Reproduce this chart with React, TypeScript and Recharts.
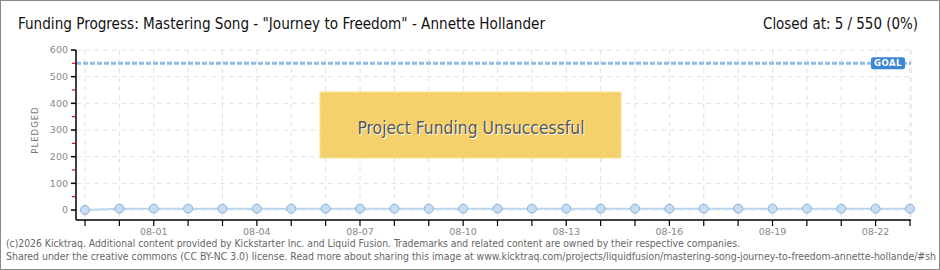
import React from 'react';
import { LineChart, Line, XAxis, YAxis, CartesianGrid, ReferenceLine } from 'recharts';

const dates = [
  '07-30', '07-31', '08-01', '08-02', '08-03', '08-04', '08-05', '08-06', '08-07',
  '08-08', '08-09', '08-10', '08-11', '08-12', '08-13', '08-14', '08-15', '08-16',
  '08-17', '08-18', '08-19', '08-20', '08-21', '08-22', '08-23',
];
const pledged = [0, 5, 5, 5, 5, 5, 5, 5, 5, 5, 5, 5, 5, 5, 5, 5, 5, 5, 5, 5, 5, 5, 5, 5, 5];
const yTicks = [0, 50, 100, 150, 200, 250, 300, 350, 400, 450, 500, 550, 600];
const gridValues = [0, 100, 200, 300, 400, 500, 600];
const goal = 550;

const data = dates.map((d, i) => ({ date: d, pledged: pledged[i] }));

const tickFont = '"DejaVu Sans", Verdana, sans-serif';
const narrowFont = '"Liberation Sans Narrow", "DejaVu Sans Condensed", sans-serif';

const YTick = (props: any) => {
  const { x, y, payload } = props;
  const major = payload.value % 100 === 0;
  return (
    <g>
      {major ? (
        <line x1={x + 3} x2={x + 8} y1={y} y2={y} stroke="#000" strokeWidth={1.5} />
      ) : (
        <line x1={x + 4} x2={x + 7} y1={y} y2={y} stroke="#e00" strokeWidth={1.2} />
      )}
      {major && (
        <text x={x} y={y} dy="0.35em" textAnchor="end" fontSize={9.5} fill="#888" fontFamily={tickFont}>
          {payload.value}
        </text>
      )}
    </g>
  );
};

const XTick = (props: any) => {
  const { x, y, payload, index } = props;
  if (index % 3 !== 2) return <g />;
  return (
    <text x={x} y={y} dy="0.7em" textAnchor="middle" fontSize={9.5} fill="#888" fontFamily={tickFont}>
      {payload.value}
    </text>
  );
};

const GoalLabel = (props: any) => {
  const vb = props.viewBox || {};
  const rx = vb.x + vb.width - 40;
  const ry = vb.y - 6;
  return (
    <g>
      <rect x={rx} y={ry} width={34} height={12} rx={2} fill="#3b86d5" />
      <text x={rx + 17} y={ry + 9} textAnchor="middle" fontSize={8.5} fontWeight="bold" fill="#fff" fontFamily={tickFont} letterSpacing={0.5}>
        GOAL
      </text>
    </g>
  );
};

export default function App() {
  return (
    <div style={{ position: 'absolute', left: 0, top: 0, width: 940, height: 270, background: '#fff', overflow: 'hidden' }}>
      <LineChart width={940} height={270} data={data} margin={{ top: 50, right: 29, bottom: 30, left: 0 }}>
        <CartesianGrid stroke="#e2e2e2" strokeDasharray="5 4" horizontal={false} />
        <XAxis
          dataKey="date"
          interval={0}
          height={20}
          padding={{ left: 9, right: 1 }}
          axisLine={{ stroke: '#000', strokeWidth: 1.5 }}
          tickLine={{ stroke: '#000', strokeWidth: 1.2 }}
          tickSize={6}
          tickMargin={2}
          tick={<XTick />}
        />
        <YAxis
          domain={[0, 600]}
          ticks={yTicks}
          interval={0}
          width={76}
          padding={{ bottom: 10 }}
          axisLine={{ stroke: '#000', strokeWidth: 1.5 }}
          tickLine={false}
          tickSize={5}
          tickMargin={3}
          tick={<YTick />}
        />
        {gridValues.map((v) => (
          <ReferenceLine key={v} y={v} stroke="#e2e2e2" strokeDasharray="5 4" />
        ))}
        <ReferenceLine
          y={goal}
          stroke="#8fbbe9"
          strokeWidth={3}
          strokeDasharray="5 2"
          label={<GoalLabel />}
        />
        <Line
          dataKey="pledged"
          type="linear"
          stroke="#bcd6f1"
          strokeWidth={2}
          dot={{ r: 4.5, fill: '#c6dcf5', stroke: '#8db0d9', strokeWidth: 1 }}
          isAnimationActive={false}
        />
      </LineChart>
      <svg width={940} height={270} style={{ position: 'absolute', left: 0, top: 0, pointerEvents: 'none' }}>
        <defs>
          <pattern id="stripes" width={4} height={4} patternUnits="userSpaceOnUse" patternTransform="rotate(45)">
            <rect width={4} height={4} fill="#f6d36f" />
            <rect width={2} height={4} fill="#f3cf6a" />
          </pattern>
        </defs>
        <text x={18} y={29} fontSize={16} fill="#111" fontFamily={narrowFont} textLength={527} lengthAdjust="spacingAndGlyphs">
          Funding Progress: Mastering Song - "Journey to Freedom" - Annette Hollander
        </text>
        <text x={763} y={29} fontSize={16} fill="#111" fontFamily={narrowFont} textLength={155} lengthAdjust="spacingAndGlyphs">
          Closed at:  5 /  550 (0%)
        </text>
        <text x={38} y={130} transform="rotate(-90 38 130)" textAnchor="middle" fontSize={8.5} fill="#777" fontFamily={tickFont} letterSpacing={1}>
          PLEDGED
        </text>
        <rect x={320} y={92} width={301} height={66} fill="url(#stripes)" stroke="#f8e293" strokeWidth={1} />
        <text x={471} y={134} textAnchor="middle" fontSize={18} fill="#fff" fontFamily={narrowFont} textLength={227} lengthAdjust="spacingAndGlyphs" transform="translate(1 1)">
          Project Funding Unsuccessful
        </text>
        <text x={471} y={134} textAnchor="middle" fontSize={18} fill="#555" fontFamily={narrowFont} textLength={227} lengthAdjust="spacingAndGlyphs">
          Project Funding Unsuccessful
        </text>
        <text x={6} y={247} fontSize={10} fill="#666" fontFamily='"DejaVu Sans Condensed", sans-serif' textLength={734} lengthAdjust="spacingAndGlyphs">
          (c)2026 Kicktraq. Additional content provided by Kickstarter Inc. and Liquid Fusion. Trademarks and related content are owned by their respective companies.
        </text>
        <text x={6} y={260} fontSize={10} fill="#666" fontFamily='"DejaVu Sans Condensed", sans-serif' textLength={930} lengthAdjust="spacingAndGlyphs">
          Shared under the creative commons (CC BY-NC 3.0) license. Read more about sharing this image at www.kicktraq.com/projects/liquidfusion/mastering-song-journey-to-freedom-annette-hollande/#sh
        </text>
      </svg>
      <div style={{ position: 'absolute', left: 0, top: 0, width: 940, height: 270, boxSizing: 'border-box', border: '1.5px solid #8a8a8a', pointerEvents: 'none' }} />
    </div>
  );
}
